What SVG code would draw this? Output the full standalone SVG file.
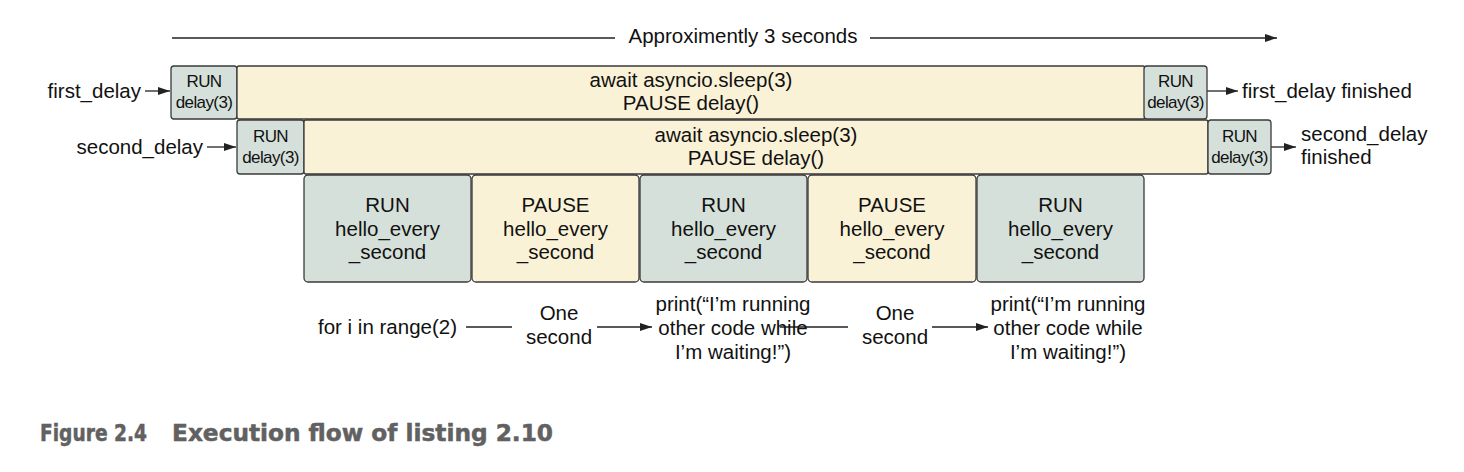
<svg xmlns="http://www.w3.org/2000/svg" width="1464" height="472" viewBox="0 0 1464 472">
<style>
text{font-family:"Liberation Sans",Arial,sans-serif;fill:#111;}
.t{font-size:20.5px;text-anchor:middle;}
.s{font-size:17px;text-anchor:middle;letter-spacing:-0.6px;}
.l{font-size:20.5px;}
.run{fill:#d5e0da;stroke:#3a3a3a;stroke-width:1.3;}
.pause{fill:#faf2d7;stroke:#3a3a3a;stroke-width:1.3;}
.ln{stroke:#222;stroke-width:1.3;fill:none;}
.cap{font-family:"DejaVu Sans",sans-serif;font-weight:bold;font-size:22.5px;fill:#616161;stroke:#616161;stroke-width:0.5;}
</style>
<defs>
<marker id="ah" viewBox="0 0 12 8" refX="12" refY="4" markerWidth="12" markerHeight="8" markerUnits="userSpaceOnUse" orient="auto">
<path d="M0,0 L12,4 L0,8 Z" fill="#222"/>
</marker>
</defs>
<rect width="1464" height="472" fill="#fff"/>

<g id="connectors">
<line class="ln" x1="172" y1="38" x2="615" y2="38"/>
<line class="ln" x1="870" y1="38" x2="1277" y2="38" marker-end="url(#ah)"/>
<line class="ln" x1="145" y1="91" x2="170" y2="91" marker-end="url(#ah)"/>
<line class="ln" x1="207" y1="147" x2="236" y2="147" marker-end="url(#ah)"/>
<line class="ln" x1="1207" y1="91" x2="1238" y2="91" marker-end="url(#ah)"/>
<line class="ln" x1="1271" y1="147" x2="1296" y2="147" marker-end="url(#ah)"/>
<line class="ln" x1="466" y1="327" x2="512" y2="327"/>
<line class="ln" x1="597" y1="327" x2="652" y2="327" marker-end="url(#ah)"/>
<line class="ln" x1="780" y1="327" x2="848" y2="327"/>
<line class="ln" x1="932" y1="327" x2="988" y2="327" marker-end="url(#ah)"/>
</g>

<g id="timeline-label">
<text class="t" x="743" y="43">Approximently 3 seconds</text>
</g>

<g id="first-delay-label"><text class="l" x="141" y="98" text-anchor="end">first_delay</text></g>
<g id="second-delay-label"><text class="l" x="203" y="154" text-anchor="end">second_delay</text></g>

<g id="run1-start">
<rect class="run" x="171" y="66" width="66" height="53" rx="3"/>
<text class="s" x="204" y="87">RUN</text>
<text class="s" x="204" y="108">delay(3)</text>
</g>
<g id="pause1">
<rect class="pause" x="237" y="66" width="908" height="53" rx="2"/>
<text class="t" x="691" y="87">await asyncio.sleep(3)</text>
<text class="t" x="691" y="110">PAUSE delay()</text>
</g>
<g id="run1-end">
<rect class="run" x="1144" y="66" width="63" height="53" rx="3"/>
<text class="s" x="1175.5" y="87">RUN</text>
<text class="s" x="1175.5" y="108">delay(3)</text>
</g>
<g id="first-finished"><text class="l" x="1242" y="98">first_delay finished</text></g>

<g id="run2-start">
<rect class="run" x="237" y="120" width="67" height="54" rx="3"/>
<text class="s" x="270.5" y="142">RUN</text>
<text class="s" x="270.5" y="163">delay(3)</text>
</g>
<g id="pause2">
<rect class="pause" x="304" y="120" width="904" height="54" rx="2"/>
<text class="t" x="756" y="142">await asyncio.sleep(3)</text>
<text class="t" x="756" y="165">PAUSE delay()</text>
</g>
<g id="run2-end">
<rect class="run" x="1208" y="120" width="63" height="54" rx="3"/>
<text class="s" x="1239.5" y="142">RUN</text>
<text class="s" x="1239.5" y="163">delay(3)</text>
</g>
<g id="second-finished">
<text class="l" x="1301" y="141">second_delay</text>
<text class="l" x="1301" y="164">finished</text>
</g>

<g id="h1">
<rect class="run" x="304" y="175" width="167" height="107" rx="4"/>
<text class="t" x="387.5" y="212">RUN</text>
<text class="t" x="387.5" y="236">hello_every</text>
<text class="t" x="387.5" y="259">_second</text>
</g>
<g id="h2">
<rect class="pause" x="472" y="175" width="167" height="107" rx="4"/>
<text class="t" x="555.5" y="212">PAUSE</text>
<text class="t" x="555.5" y="236">hello_every</text>
<text class="t" x="555.5" y="259">_second</text>
</g>
<g id="h3">
<rect class="run" x="640" y="175" width="167" height="107" rx="4"/>
<text class="t" x="723.5" y="212">RUN</text>
<text class="t" x="723.5" y="236">hello_every</text>
<text class="t" x="723.5" y="259">_second</text>
</g>
<g id="h4">
<rect class="pause" x="808" y="175" width="168" height="107" rx="4"/>
<text class="t" x="892" y="212">PAUSE</text>
<text class="t" x="892" y="236">hello_every</text>
<text class="t" x="892" y="259">_second</text>
</g>
<g id="h5">
<rect class="run" x="977" y="175" width="167" height="107" rx="4"/>
<text class="t" x="1060.5" y="212">RUN</text>
<text class="t" x="1060.5" y="236">hello_every</text>
<text class="t" x="1060.5" y="259">_second</text>
</g>

<g id="for-loop"><text class="l" x="318" y="334">for i in range(2)</text></g>
<g id="one-second-1">
<text class="t" x="559" y="320">One</text>
<text class="t" x="559" y="344">second</text>
</g>
<g id="print-1">
<text class="t" x="733" y="311">print(“I’m running</text>
<text class="t" x="733" y="335">other code while</text>
<text class="t" x="733" y="359">I’m waiting!”)</text>
</g>
<g id="one-second-2">
<text class="t" x="895" y="320">One</text>
<text class="t" x="895" y="344">second</text>
</g>
<g id="print-2">
<text class="t" x="1068" y="311">print(“I’m running</text>
<text class="t" x="1068" y="335">other code while</text>
<text class="t" x="1068" y="359">I’m waiting!”)</text>
</g>

<g id="caption">
<text class="cap" x="40" y="441" textLength="107" lengthAdjust="spacingAndGlyphs">Figure 2.4</text>
<text class="cap" x="172" y="441" textLength="381" lengthAdjust="spacingAndGlyphs">Execution flow of listing 2.10</text>
</g>
</svg>
